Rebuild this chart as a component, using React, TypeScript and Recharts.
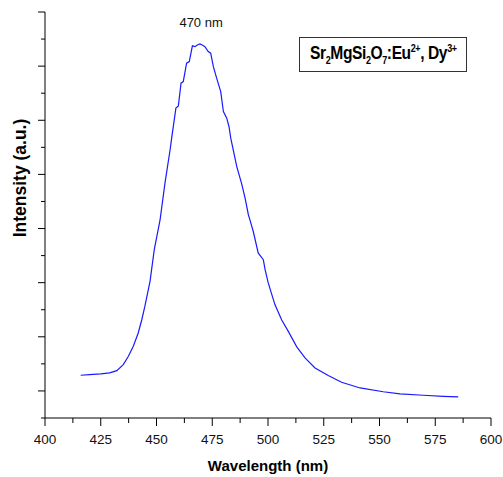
import { LineChart, Line, XAxis, YAxis, ReferenceDot, Label } from 'recharts';

// emission spectrum
const wavelengths = [
  416, 420, 425, 429, 432.2, 435.1, 437.4, 439.6, 441.8, 443.4, 444.8, 447.1, 449, 451.6,
  453.8, 456.1, 456.8, 458.7, 459.8, 461, 462, 463.5, 464.7, 466.1, 467.3, 468.3, 469.5,
  470.5, 471.7, 473.2, 474.3, 475.5, 477, 478.8, 480, 481.5, 482.5, 483.3, 486, 488.2,
  489.7, 491.2, 491.9, 493.4, 495.6, 497.9, 498.7, 500.1, 503.1, 506.1, 509.1, 512.9,
  516.6, 521.1, 527, 533, 541.3, 551.7, 559.2, 569.6, 578.6, 585.3,
];
const intensities = [
  1.58, 1.6, 1.63, 1.67, 1.75, 1.97, 2.28, 2.65, 3.14, 3.63, 4.13, 5.05, 6.22, 7.32,
  8.68, 9.91, 10.34, 11.45, 11.53, 12.37, 12.43, 13.11, 13.17, 13.75, 13.72, 13.78, 13.82,
  13.78, 13.72, 13.54, 13.48, 12.98, 12.55, 12.06, 11.32, 11.08, 10.77, 10.34, 9.29, 8.65,
  8.13, 7.51, 7.32, 6.89, 6.1, 5.85, 5.48, 4.99, 4.19, 3.63, 3.2, 2.63, 2.22, 1.85,
  1.57, 1.32, 1.11, 0.97, 0.89, 0.84, 0.8, 0.78,
];
const xTicks = [400, 412.5, 425, 437.5, 450, 462.5, 475, 487.5, 500, 512.5, 525, 537.5, 550, 562.5, 575, 587.5, 600];
const yTicks = [0, 1, 2, 3, 4, 5, 6, 7, 8, 9, 10, 11, 12, 13, 14, 15];
const peakLabel = '470 nm';

const data = wavelengths.map((w, i) => ({ w, v: intensities[i] }));

const FONT = '"Liberation Sans", Arial, sans-serif';

const XTick = (props: any) => {
  const { x, y, payload } = props;
  const major = payload.value % 25 === 0;
  return (
    <g>
      <line x1={x} y1={y} x2={x} y2={y + (major ? 8 : 5)} stroke="#000" strokeWidth={1} />
      {major && (
        <text x={x} y={y + 26} textAnchor="middle" fontSize={13.5} fontFamily={FONT} fill="#111">
          {payload.value}
        </text>
      )}
    </g>
  );
};

const YTick = (props: any) => {
  const { x, y, payload } = props;
  const major = payload.value % 2 === 1;
  return <line x1={x - (major ? 7 : 4)} y1={y} x2={x} y2={y} stroke="#000" strokeWidth={1} />;
};

export default function App() {
  return (
    <div style={{ position: 'absolute', left: 0, top: 0, width: 503, height: 477, background: '#fff' }}>
      <LineChart width={503} height={477} data={data} margin={{ top: 12, right: 12, left: 0, bottom: 28 }}>
        <XAxis
          dataKey="w"
          type="number"
          domain={[400, 600]}
          ticks={xTicks}
          interval={0}
          height={31}
          tickLine={false}
          tickSize={0}
          tickMargin={0}
          tick={<XTick />}
          axisLine={{ stroke: '#000', strokeWidth: 1 }}
        >
          <Label
            content={(p: any) => (
              <text
                x={p.viewBox.x + p.viewBox.width / 2}
                y={471}
                textAnchor="middle"
                fontSize={15}
                fontWeight="bold"
                fontFamily={FONT}
                fill="#000"
              >
                Wavelength (nm)
              </text>
            )}
          />
        </XAxis>
        <YAxis
          type="number"
          domain={[0, 15]}
          ticks={yTicks}
          interval={0}
          width={45}
          tickLine={false}
          tickSize={0}
          tickMargin={0}
          tick={<YTick />}
          axisLine={{ stroke: '#000', strokeWidth: 1 }}
        >
          <Label
            content={() => (
              <text
                transform="translate(26, 178) rotate(-90)"
                textAnchor="middle"
                fontSize={17.5}
                fontWeight="bold"
                fontFamily={FONT}
                fill="#000"
              >
                Intensity (a.u.)
              </text>
            )}
          />
        </YAxis>
        <Line
          type="linear"
          dataKey="v"
          stroke="#1a1aff"
          strokeWidth={1.2}
          dot={false}
          isAnimationActive={false}
        />
        <ReferenceDot
          x={470}
          y={13.82}
          r={0}
          label={{ value: peakLabel, position: 'top', offset: 17, fontSize: 13, fontFamily: FONT, fill: '#111' }}
        />
      </LineChart>
      <div
        style={{
          position: 'absolute',
          left: 299,
          top: 37,
          width: 166,
          height: 33,
          border: '1px solid #333',
          display: 'flex',
          alignItems: 'center',
          justifyContent: 'center',
          fontFamily: FONT,
          fontWeight: 'bold',
          fontSize: 19,
          color: '#000',
          lineHeight: 1,
        }}
      >
        <span style={{ display: 'inline-block', transform: 'scaleX(0.82)', whiteSpace: 'nowrap', letterSpacing: -0.5 }}>
          Sr<sub style={{ fontSize: 11 }}>2</sub>MgSi<sub style={{ fontSize: 11 }}>2</sub>O
          <sub style={{ fontSize: 11 }}>7</sub>:Eu<sup style={{ fontSize: 11 }}>2+</sup>, Dy
          <sup style={{ fontSize: 11 }}>3+</sup>
        </span>
      </div>
    </div>
  );
}
